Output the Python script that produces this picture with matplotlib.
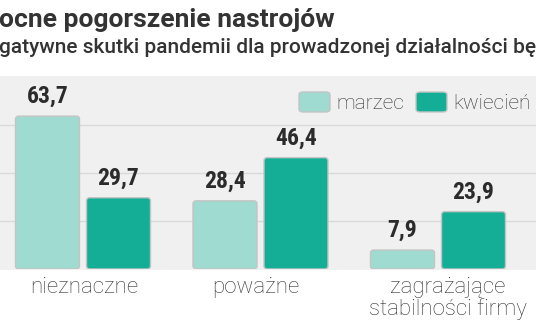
import matplotlib
matplotlib.use("Agg")
import matplotlib.pyplot as plt
from matplotlib.patches import FancyBboxPatch
from matplotlib import font_manager as fm
import numpy as np

categories = ["nieznaczne", "poważne", "zagrażające\nstabilności firmy"]
series_names = ["marzec", "kwiecień"]
marzec = [63.7, 28.4, 7.9]
kwiecien = [29.7, 46.4, 23.9]
value_labels_m = ["63,7", "28,4", "7,9"]
value_labels_k = ["29,7", "46,4", "23,9"]
title = "ocne pogorszenie nastrojów"
subtitle = "gatywne skutki pandemii dla prowadzonej działalności będ"

C_M = "#9fdbd0"
C_K = "#14ae97"
TXT = "#333333"
W, H = 536, 332

def _stretch_val(s):
    m = {"ultra-condensed": 100, "extra-condensed": 200, "condensed": 300,
         "semi-condensed": 400, "normal": 500}
    if isinstance(s, (int, float)):
        return s
    return m.get(s, 500)

def pick_condensed(weights, prefer=("Roboto Condensed", "Noto Sans", "DejaVu Sans",
                                    "Open Sans", "Liberation Sans Narrow")):
    cands = []
    for f in fm.fontManager.ttflist:
        sv = _stretch_val(f.stretch)
        name = f.fname.lower()
        cond = sv <= 400 or "condensed" in name or "narrow" in name
        if not cond:
            continue
        w = f.weight if isinstance(f.weight, int) else 400
        if w not in weights:
            continue
        if "italic" in name or "oblique" in name or f.style != "normal":
            continue
        if "semicondensed" in name.replace("-", "") or "semi" in name:
            continue
        if "extracondensed" in name.replace("-", ""):
            continue
        rank = prefer.index(f.name) if f.name in prefer else len(prefer)
        cands.append((rank, weights.index(w), f.fname))
    if not cands:
        return None
    cands.sort()
    return cands[0][2]

bold_c = pick_condensed([700, 600, 800])
if bold_c:
    num_fp = fm.FontProperties(fname=bold_c)
else:
    num_fp = fm.FontProperties(family=["DejaVu Sans"], weight="bold")
num_fp.set_size(17)

fig = plt.figure(figsize=(W / 100, H / 100), dpi=100)
fig.patch.set_facecolor("white")

def fx(px):
    return px / W

def fy(py):
    return 1 - py / H

panel = FancyBboxPatch((fx(-20), fy(270)), fx(600), (270 - 76) / H,
                       boxstyle="round,pad=0,rounding_size=0.02",
                       transform=fig.transFigure, facecolor="#f0f0f0",
                       edgecolor="none", zorder=0)
fig.add_artist(panel)

ax = fig.add_axes([0, fy(269), 1, (269 - 77) / H])
ax.set_facecolor("none")
ax.set_ylim(0, 80)
px_per_unit_x = 177.5
ax.set_xlim(-83 / px_per_unit_x, (536 - 83) / px_per_unit_x)
for s in ax.spines.values():
    s.set_visible(False)
ax.set_xticks([])
ax.set_yticks([20, 40, 60])
ax.tick_params(left=False, labelleft=False)
ax.grid(axis="y", color="#d9d9d9", linewidth=1)
ax.set_axisbelow(True)

x = np.arange(len(categories))
bw = 64 / px_per_unit_x
off = 35.5 / px_per_unit_x
aspect = (80 / 192) / (1 / px_per_unit_x)

def rounded_bars(xs, vals, color):
    bars = ax.bar(xs, vals, width=bw, color=color)
    for b in bars:
        bx, by = b.get_x(), b.get_y()
        bwid, bh = b.get_width(), b.get_height()
        p = FancyBboxPatch((bx, by), bwid, bh,
                           boxstyle="round,pad=0,rounding_size=%f" % (3 / px_per_unit_x),
                           mutation_aspect=aspect, facecolor=color,
                           edgecolor="#c4c4c4", linewidth=1.0, zorder=3)
        ax.add_patch(p)
        b.remove()
    return bars

rounded_bars(x - off, marzec, C_M)
rounded_bars(x + off, kwiecien, C_K)

for xi, v, lab in zip(x - off, marzec, value_labels_m):
    ax.annotate(lab, (xi, v), xytext=(0, 8), textcoords="offset pixels",
                ha="center", va="bottom", fontproperties=num_fp, color="#2b2b2b")
for xi, v, lab in zip(x + off, kwiecien, value_labels_k):
    ax.annotate(lab, (xi, v), xytext=(0, 8), textcoords="offset pixels",
                ha="center", va="bottom", fontproperties=num_fp, color="#2b2b2b")

cat_font = dict(family=["Roboto", "DejaVu Sans"], weight="light", fontsize=16,
                color=TXT)
cat_dx = [1, -5, 10]
for xi, c, dx in zip(x, categories, cat_dx):
    ax.annotate(c, (xi, 0), xytext=(dx, -8), textcoords="offset pixels",
                ha="center", va="top", linespacing=1.0, **cat_font)

fig.text(fx(-1), fy(26.5), title, ha="left", va="baseline",
         family=["Roboto", "DejaVu Sans"], weight="bold", fontsize=19, color=TXT)
fig.text(fx(-1), fy(53), subtitle, ha="left", va="baseline",
         family=["Roboto", "DejaVu Sans"], weight="medium", fontsize=15, color=TXT)

for (lx, name, col) in [(299, series_names[0], C_M), (416, series_names[1], C_K)]:
    lp = FancyBboxPatch((fx(lx), fy(112)), fx(31), 20 / H,
                        boxstyle="round,pad=0,rounding_size=0.008",
                        transform=fig.transFigure, facecolor=col,
                        edgecolor="#c4c4c4", linewidth=1.0, zorder=5)
    fig.add_artist(lp)
    fig.text(fx(lx + 37), fy(108.5), name, ha="left", va="baseline",
             family=["Roboto", "DejaVu Sans"], weight="light", fontsize=15,
             color=TXT)

fig.savefig("out.png", dpi=100)
